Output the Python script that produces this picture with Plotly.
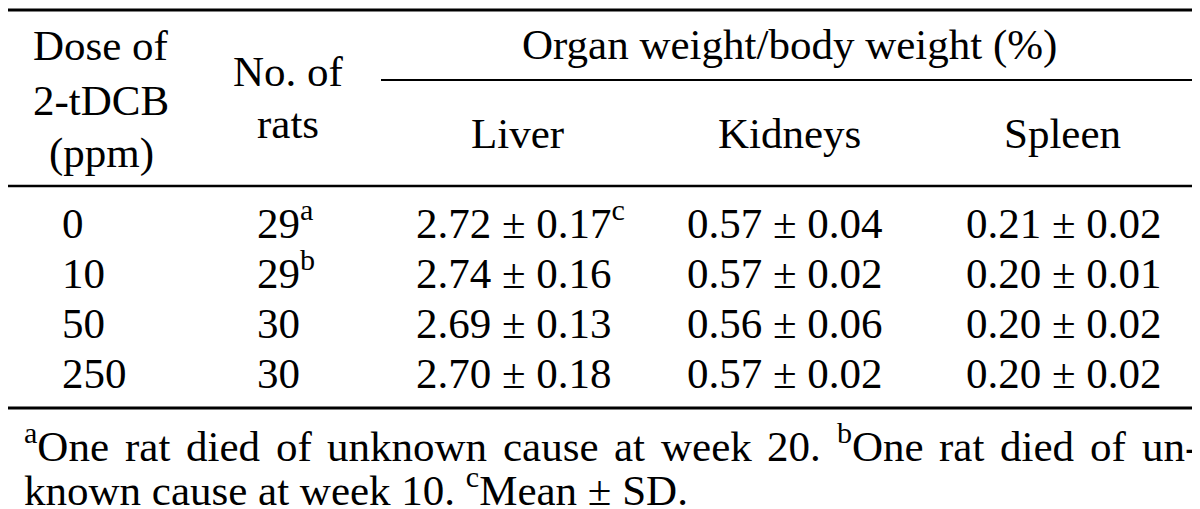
import plotly.graph_objects as go

# ---- data ----
doses = ["0", "10", "50", "250"]
n_rats = ["29", "29", "30", "30"]
n_rats_sup = ["a", "b", "", ""]
liver_mean = ["2.72", "2.74", "2.69", "2.70"]
liver_sd = ["0.17", "0.16", "0.13", "0.18"]
liver_sup = ["c", "", "", ""]
kidney_mean = ["0.57", "0.57", "0.56", "0.57"]
kidney_sd = ["0.04", "0.02", "0.06", "0.02"]
spleen_mean = ["0.21", "0.20", "0.20", "0.20"]
spleen_sd = ["0.02", "0.01", "0.02", "0.02"]
organ_cols = ["Liver", "Kidneys", "Spleen"]
header_dose = ["Dose of", "2-tDCB", "(ppm)"]
header_n = ["No. of", "rats"]
header_group = "Organ weight/body weight (%)"
# footnote line 1 as (superscript, word) pairs (justified), line 2 plain
footnote1 = [("a", "One"), ("", "rat"), ("", "died"), ("", "of"), ("", "unknown"),
             ("", "cause"), ("", "at"), ("", "week"), ("", "20."), ("b", "One"),
             ("", "rat"), ("", "died"), ("", "of"), ("", "un-")]
footnote2 = "known cause at week 10. <sup>c</sup>Mean ± SD."

W, H = 1200, 509
FONT = "Liberation Serif"
FS = 43
DESC = 0.216 * FS + 1  # baseline -> bottom of annotation box

# Times-compatible advance widths (1/1000 em) for justification of footnote line 1
CW = {"a": 444, "b": 500, "c": 444, "d": 500, "e": 444, "f": 333, "g": 500, "h": 500,
      "i": 278, "k": 500, "l": 278, "m": 778, "n": 500, "o": 500, "p": 500, "r": 333,
      "s": 389, "t": 278, "u": 500, "w": 722, "y": 500, "O": 722, ".": 250, "-": 333,
      "0": 500, "1": 500, "2": 500, "3": 500, "4": 500, "5": 500, "6": 500, "7": 500,
      "8": 500, "9": 500}

def wlen(s, size):
    return sum(CW.get(ch, 500) for ch in s) / 1000.0 * size

fig = go.Figure()

ann = []
def text(x, baseline, s, xanchor="center", size=FS):
    ann.append(dict(x=x / W, y=1 - (baseline + DESC) / H, xref="paper", yref="paper",
                    text=s, showarrow=False, xanchor=xanchor, yanchor="bottom",
                    borderpad=0, font=dict(family=FONT, size=size, color="black")))

# header
for s, b in zip(header_dose, [52, 107, 160]):
    text(93, b, s)
for s, b in zip(header_n, [78, 130]):
    text(280, b, s)
text(781, 52, header_group)
for s, x in zip(organ_cols, [509, 781, 1054]):
    text(x, 140, s)

# body
row_base = [230, 280, 330, 380]
for i, b in enumerate(row_base):
    text(53, b, doses[i], "left")
    s = n_rats[i] + (f"<sup>{n_rats_sup[i]}</sup>" if n_rats_sup[i] else "")
    text(248, b, s, "left")
    s = f"{liver_mean[i]} ± {liver_sd[i]}" + (f"<sup>{liver_sup[i]}</sup>" if liver_sup[i] else "")
    text(407, b, s, "left")
    text(678, b, f"{kidney_mean[i]} ± {kidney_sd[i]}", "left")
    text(957, b, f"{spleen_mean[i]} ± {spleen_sd[i]}", "left")

# footnote line 1, justified between x=15 and x=1190
L, R = 15, 1190
widths = [wlen(sup, FS * 0.7) + wlen(w, FS) for sup, w in footnote1]
gap = (R - L - sum(widths)) / (len(footnote1) - 1)
x = L
for (sup, w), wd in zip(footnote1, widths):
    s = (f"<sup>{sup}</sup>" if sup else "") + w
    text(x, 453, s, "left")
    x += wd + gap
# footnote line 2
text(L, 497, footnote2, "left")

shapes = []
def rule(x0, x1, y, w):
    shapes.append(dict(type="line", xref="paper", yref="paper", x0=x0 / W, x1=x1 / W,
                       y0=1 - y / H, y1=1 - y / H, line=dict(color="black", width=w)))
rule(0, 1189, 2, 3)
rule(373, 1189, 72, 2)
rule(0, 1189, 178, 2.5)
rule(0, 1189, 400, 3)

fig.update_layout(
    width=W, height=H, margin=dict(l=0, r=0, t=0, b=0),
    paper_bgcolor="white", plot_bgcolor="white",
    xaxis=dict(visible=False), yaxis=dict(visible=False),
    annotations=ann, shapes=shapes, showlegend=False,
)
fig.write_html("out.html")
